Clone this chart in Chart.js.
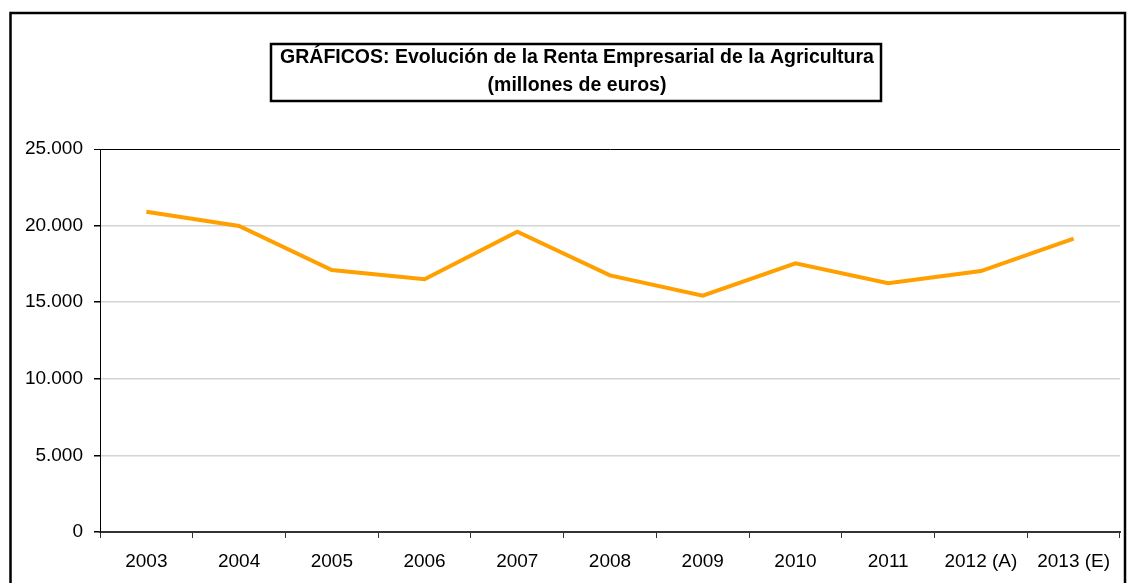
<!DOCTYPE html>
<html>
<head>
<meta charset="utf-8">
<script src="https://cdn.jsdelivr.net/npm/chart.js@4/dist/chart.umd.min.js"></script>
<style>
  html, body { margin: 0; padding: 0; background: #fff; }
  canvas { display: block; }
</style>
</head>
<body>
<canvas id="renta" width="1130" height="583"></canvas>
<script>
    "use strict";

    // Data
    var years = ['2003', '2004', '2005', '2006', '2007', '2008', '2009', '2010', '2011', '2012 (A)', '2013 (E)'];
    var renta = [20900, 19980, 17100, 16500, 19600, 16750, 15430, 17540, 16240, 17030, 19150];
    var yMin = 0, yMax = 25000, yStep = 5000;
    var titleLines = ['GRÁFICOS: Evolución de la Renta Empresarial de la Agricultura', '(millones de euros)'];

    var FONT = '"Liberation Sans", Arial, sans-serif';

    // Outer frame + boxed title
    var framePlugin = {
        id: 'frame',
        afterDraw: function (chart) {
            var c = chart.ctx;
            c.save();
            c.strokeStyle = '#000';
            c.lineWidth = 2.5;
            c.strokeRect(10.5, 13, 1114.5, 600);

            c.lineWidth = 2.5;
            c.strokeRect(271, 44, 610, 57);

            c.fillStyle = '#000';
            c.font = 'bold 19.5px ' + FONT;
            c.textAlign = 'center';
            c.textBaseline = 'middle';
            c.fillText(titleLines[0], 577, 58);
            c.fillText(titleLines[1], 577, 86);
            c.restore();
        }
    };

    var ctx = document.getElementById('renta').getContext('2d');
    var myChart = new Chart(ctx, {
        type: 'line',
        data: {
            labels: years,
            datasets: [{
                label: 'Renta Empresarial',
                data: renta,
                borderColor: '#ffa000',
                backgroundColor: '#ffa000',
                borderWidth: 4,
                pointRadius: 0,
                tension: 0,
                fill: false
            }]
        },
        options: {
            responsive: false,
            animation: false,
            layout: { padding: { top: 149, left: 0, right: 10, bottom: 0 } },
            plugins: {
                legend: { display: false },
                title: { display: false },
                tooltip: { enabled: false }
            },
            scales: {
                x: {
                    offset: true,
                    afterFit: function (s) { s.height = 51; },
                    grid: {
                        offset: true,
                        drawOnChartArea: false,
                        tickLength: 6,
                        tickColor: '#333'
                    },
                    border: { color: '#333', width: 2 },
                    ticks: {
                        color: '#000',
                        padding: 12,
                        maxRotation: 0,
                        autoSkip: false,
                        font: { family: FONT, size: 19 }
                    }
                },
                y: {
                    min: yMin,
                    max: yMax,
                    afterFit: function (s) { s.width = 100; },
                    grid: {
                        color: function (c) {
                            if (c.tick && c.tick.value === yMax) return '#000';
                            return '#d4d4d4';
                        },
                        lineWidth: function (c) {
                            return (c.tick && c.tick.value === yMax) ? 1 : 1.5;
                        },
                        tickLength: 6,
                        tickColor: '#000'
                    },
                    border: { color: '#000', width: 1 },
                    ticks: {
                        stepSize: yStep,
                        color: '#000',
                        padding: 11,
                        font: { family: FONT, size: 19 },
                        callback: function (v) {
                            return String(v).replace(/\B(?=(\d{3})+(?!\d))/g, '.');
                        }
                    }
                }
            }
        },
        plugins: [framePlugin]
    });
</script>
</body>
</html>
